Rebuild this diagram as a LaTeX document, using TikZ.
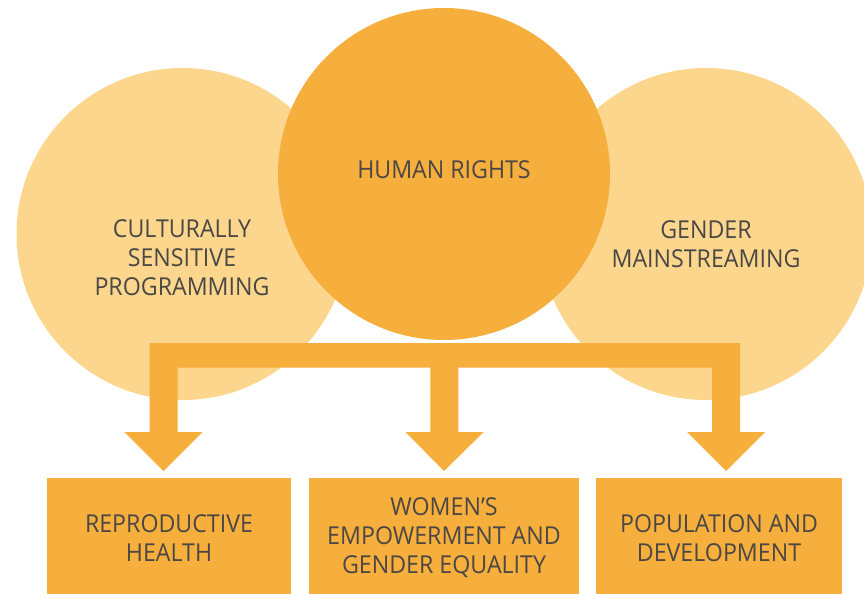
\documentclass[tikz,border=0pt]{standalone}
\usepackage{fontspec}
\setmainfont{Open Sans}[FakeStretch=0.94]
\definecolor{lightorange}{HTML}{FCD68D}
\definecolor{darkorange}{HTML}{F6AE3C}
\definecolor{txt}{HTML}{4A4744}
\begin{document}
\begin{tikzpicture}[x=0.75pt,y=-0.75pt,
  lbl/.style={text=txt,align=center,font=\fontsize{18.5pt}{21.8pt}\selectfont,inner sep=0pt},
  ]
\useasboundingbox (0,0) rectangle (864,593);
\clip (0,0) rectangle (864,593);
% circles
\fill[lightorange] (182.5,234) circle[radius=166];
\fill[lightorange] (706,234) circle[radius=166];
\fill[darkorange] (444,174) circle[radius=166];
\node[lbl] (hr) at (444,170) {HUMAN RIGHTS};
\node[lbl] (csp) at (182,258) {CULTURALLY\\SENSITIVE\\PROGRAMMING};
\node[lbl] (gm) at (706,244) {GENDER\\MAINSTREAMING};
% connector
\coordinate (barL) at (149.5,343);
\coordinate (barR) at (740,343);
\fill[darkorange] (barL) -- (barR) -- (740,432) -- (765,432) -- (726,471) -- (687,432) -- (712,432)
  -- (712,367.7) -- (458.4,367.7) -- (458.4,432) -- (483.7,432) -- (444,471) -- (405.5,432)
  -- (430.3,432) -- (430.3,367.7) -- (177.7,367.7) -- (177.7,432) -- (202.7,432) -- (163.5,471)
  -- (124.3,432) -- (149.5,432) -- cycle;
% boxes
\fill[darkorange] (47,478) rectangle (291,600);
\fill[darkorange] (309,478) rectangle (579,600);
\fill[darkorange] (596,478) rectangle (842,600);
\node[lbl] (rh) at (169,538) {REPRODUCTIVE\\HEALTH};
\node[lbl] (we) at (444,538) {WOMEN’S\\EMPOWERMENT AND\\GENDER EQUALITY};
\node[lbl] (pd) at (719,538) {POPULATION AND\\DEVELOPMENT};
\end{tikzpicture}
\end{document}
